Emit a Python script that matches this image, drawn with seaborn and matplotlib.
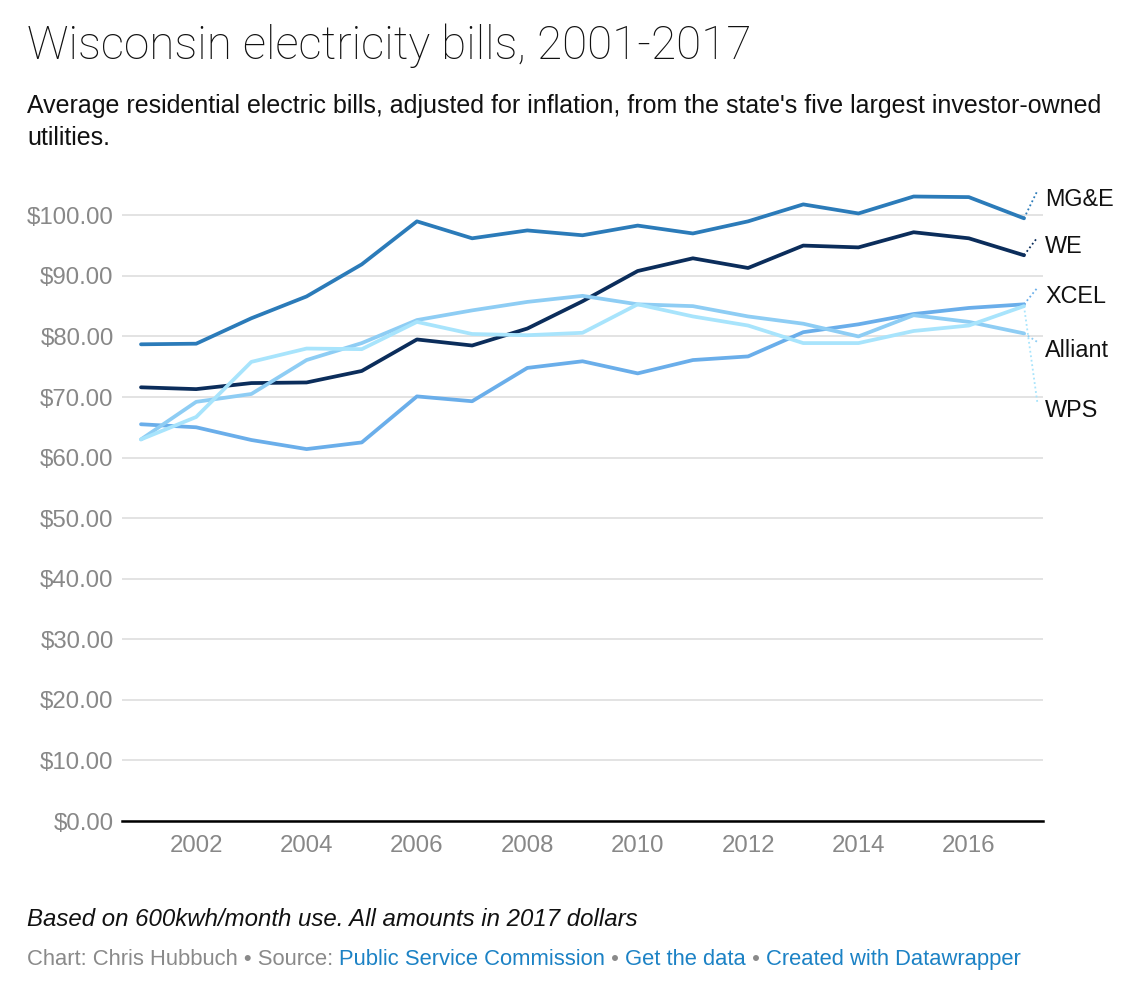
import matplotlib
matplotlib.use("Agg")
import matplotlib.pyplot as plt
import seaborn as sns
import pandas as pd

years = list(range(2001, 2018))
mge = [78.7, 78.8, 83.0, 86.6, 91.9, 99.0, 96.2, 97.5, 96.7, 98.3, 97.0, 99.0, 101.8, 100.3, 103.1, 103.0, 99.5]
we = [71.6, 71.3, 72.3, 72.4, 74.3, 79.5, 78.5, 81.3, 85.8, 90.8, 92.9, 91.3, 95.0, 94.7, 97.2, 96.2, 93.4]
xcel = [65.5, 65.0, 62.9, 61.4, 62.5, 70.1, 69.3, 74.8, 75.9, 73.9, 76.1, 76.7, 80.7, 82.0, 83.7, 84.7, 85.3]
alliant = [63.0, 69.2, 70.5, 76.1, 78.9, 82.7, 84.3, 85.7, 86.7, 85.3, 85.0, 83.3, 82.1, 80.0, 83.5, 82.4, 80.5]
wps = [63.0, 66.7, 75.8, 78.0, 77.9, 82.4, 80.4, 80.2, 80.6, 85.3, 83.3, 81.8, 78.9, 78.9, 80.9, 81.8, 85.0]

series_names = ["MG&E", "WE", "XCEL", "Alliant", "WPS"]
series_values = [mge, we, xcel, alliant, wps]
colors = ["#2b7bb9", "#0b2d5b", "#6aaeea", "#8ecdf4", "#a8e4fc"]
label_y = [102.6, 94.9, 86.6, 77.7, 67.8]
y_ticks = [0, 10, 20, 30, 40, 50, 60, 70, 80, 90, 100]
x_ticks = [2002, 2004, 2006, 2008, 2010, 2012, 2014, 2016]

title = "Wisconsin electricity bills, 2001-2017"
subtitle_lines = ["Average residential electric bills, adjusted for inflation, from the state's five largest investor-owned",
                  "utilities."]
note = "Based on 600kwh/month use. All amounts in 2017 dollars"

rows = []
for name, vals in zip(series_names, series_values):
    for y, v in zip(years, vals):
        rows.append({"year": y, "value": v, "utility": name})
df = pd.DataFrame(rows)

sns.set_theme(style="white")
plt.rcParams['font.family'] = ['Liberation Sans', 'DejaVu Sans']

fig = plt.figure(figsize=(11.46, 9.84), dpi=100)
ax = fig.add_axes([122/1146, (984-821)/984, (1043-122)/1146, 636/984])

sns.lineplot(data=df, x="year", y="value", hue="utility", hue_order=series_names,
             palette=dict(zip(series_names, colors)), linewidth=2.7, ax=ax, legend=False,
             zorder=3)

ax.set_xlim(2001 - 19/55.2, 2017 + 19/55.2)
ax.set_ylim(0, 105)
ax.set_yticks(y_ticks)
ax.set_yticklabels([f"${v:.2f}" for v in y_ticks])
ax.set_xticks(x_ticks)
ax.set_xticklabels([str(x) for x in x_ticks])
ax.set_xlabel("")
ax.set_ylabel("")
ax.grid(axis="y", color="#e0e0e0", linewidth=1.3)
ax.grid(axis="x", visible=False)
ax.set_axisbelow(True)
for s in ["top", "right", "left"]:
    ax.spines[s].set_visible(False)
ax.spines["bottom"].set_color("#000000")
ax.spines["bottom"].set_linewidth(1.8)
ax.spines["bottom"].set_zorder(4)
ax.tick_params(axis="both", length=0, labelsize=17.3, labelcolor="#888888")
ax.tick_params(axis="y", pad=6)
ax.tick_params(axis="x", pad=10)

# direct labels with dotted leader lines
x_end = years[-1]
for name, vals, c, ly in zip(series_names, series_values, colors, label_y):
    ax.plot([x_end, x_end + 0.24], [vals[-1], ly + 1.4], linestyle=(0, (1, 1.5)),
            color=c, linewidth=1.3, clip_on=False)
    ax.text(x_end + 0.38, ly, name, fontsize=16.8, color="#111111", va="center",
            ha="left", clip_on=False)

fig.text(27/1146, 1 - 59/984, title, fontsize=33, color="#111111",
         family=["Roboto", "Liberation Sans", "DejaVu Sans"], fontweight="light", va="baseline")
fig.text(27/1146, 1 - 113/984, subtitle_lines[0], fontsize=18, color="#111111", va="baseline")
fig.text(27/1146, 1 - 145/984, subtitle_lines[1], fontsize=18, color="#111111", va="baseline")
fig.text(27/1146, 1 - 926/984, note, fontsize=17.3, color="#111111", style="italic", va="baseline")

gray = "#8a8a8a"
blue = "#1c82c5"
parts = [("Chart: Chris Hubbuch \u2022 Source: ", gray), ("Public Service Commission", blue),
         (" \u2022 ", gray), ("Get the data", blue), (" \u2022 ", gray),
         ("Created with Datawrapper", blue)]
prev = fig.text(27/1146, 1 - 965/984, parts[0][0], fontsize=15.8, color=parts[0][1],
                va="baseline")
for txt, col in parts[1:]:
    prev = ax.annotate(txt, xy=(1, 0), xycoords=prev, xytext=(0, 0), textcoords="offset points",
                       fontsize=15.8, color=col, va="bottom", ha="left", annotation_clip=False)

fig.savefig("out.png", dpi=100, facecolor="white")
